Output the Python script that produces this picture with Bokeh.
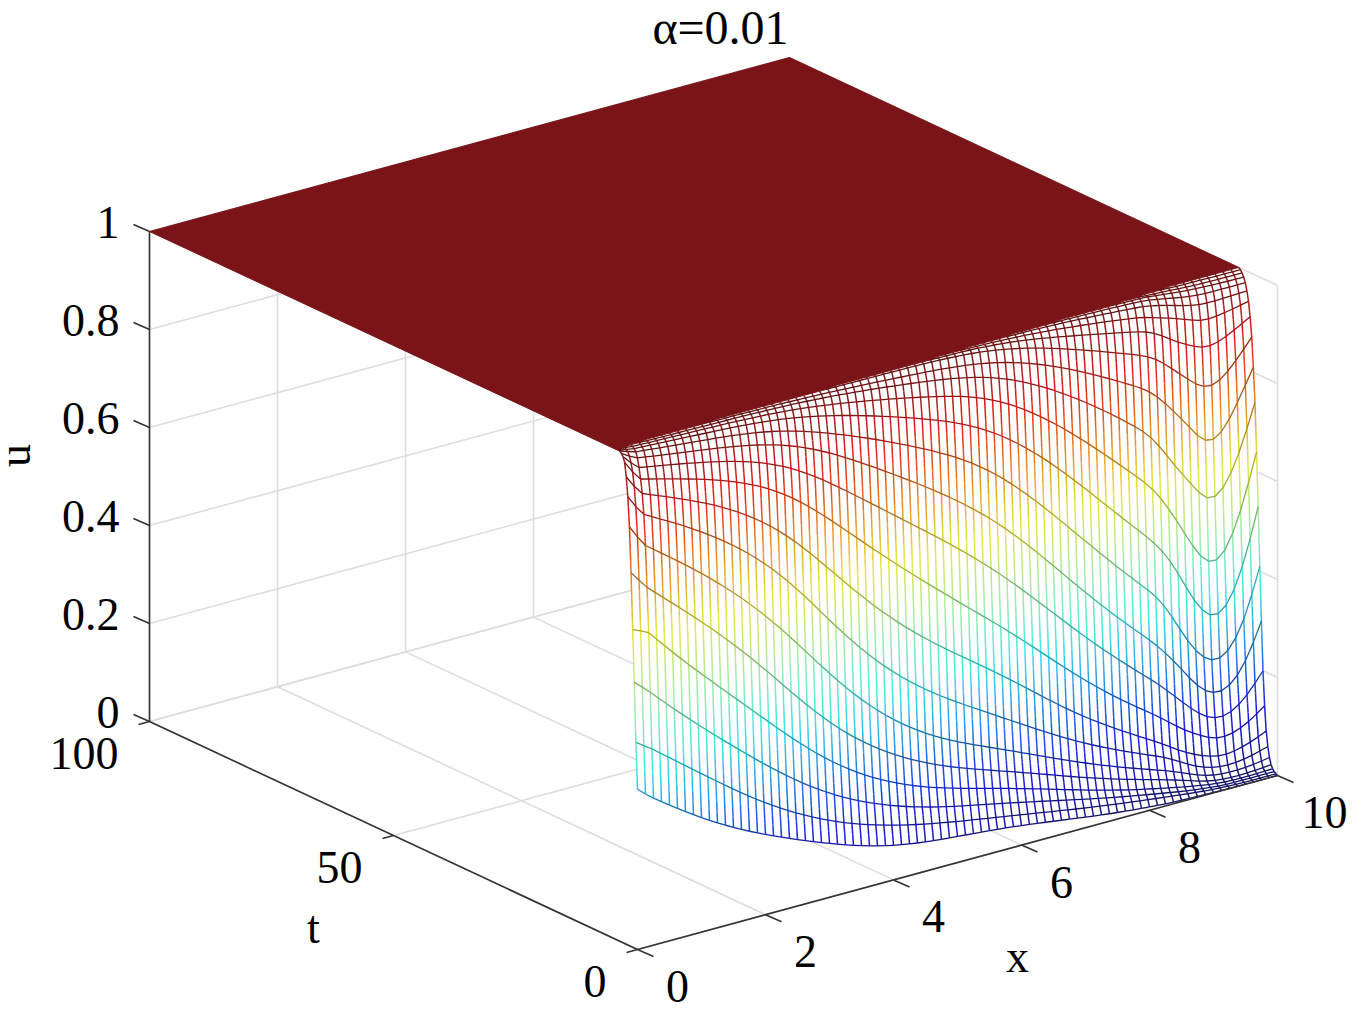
import math
from bokeh.plotting import figure
from bokeh.models import Range1d, ColumnDataSource
from bokeh.core.properties import value
from bokeh.embed import file_html
from bokeh.resources import INLINE

title = "α=0.01"
x_ticks = [0, 2, 4, 6, 8, 10]
t_ticks = [0, 50, 100]
u_ticks = [0, 0.2, 0.4, 0.6, 0.8, 1]
u_labels = ["0", "0.2", "0.4", "0.6", "0.8", "1"]
dx = 0.125      # spacing of the x mesh lines
dt = 0.33       # spacing of the t mesh lines

# u in thousandths, one list per t row, 81 values along x (8 per unit of x)
row_00 = [327,313,300,287,275,264,252,240, 228,219,210,201,193,185,177,169, 161,154,147,141,135,128,122,116, 108,102,96,90,84,79,74,70, 66,63,61,59,57,56,55,54, 53,52,51,50,49,47,45,43, 41,39,37,34,31,29,26,23, 20,18,16,14,12,10,9,7, 6,5,4,3,3,2,2,1, 1,1,0,0,0,0,0,0, 0]
row_01 = [421,410,399,386,372,360,348,337, 325,311,298,285,272,259,247,234, 222,213,204,195,186,177,168,159, 150,144,138,132,127,122,117,112, 108,104,100,96,93,90,87,84, 81,78,76,74,71,68,66,63, 61,58,55,52,49,46,43,40, 38,35,33,30,28,26,24,22, 20,18,16,14,12,10,8,7, 5,4,3,3,2,2,2,2, 2]
row_02 = [542,528,513,493,472,459,446,433, 420,405,391,376,362,347,333,319, 305,291,277,264,251,239,227,216, 205,197,189,181,173,165,158,151, 145,140,135,130,125,121,117,113, 110,107,104,101,99,95,92,88, 85,81,77,73,69,65,62,58, 55,51,47,44,40,37,34,30, 27,25,23,20,17,14,12,10, 8,6,5,5,5,5,5,5, 5]
row_03 = [648,641,633,609,585,571,558,544, 530,514,498,482,465,449,433,416, 400,384,368,352,336,319,302,286, 270,259,249,239,229,219,209,199, 190,183,177,171,165,159,154,149, 145,141,137,134,130,125,121,116, 112,107,102,97,92,87,82,77, 72,67,62,57,52,48,44,40, 37,34,31,28,24,21,18,15, 12,10,8,8,8,8,8,9, 9]
row_04 = [763,743,724,707,690,678,665,653, 640,625,609,592,576,560,543,527, 510,490,470,450,430,410,390,370, 350,336,322,308,295,283,271,260, 250,240,231,222,214,206,199,192, 185,180,175,170,165,160,155,150, 145,139,133,127,120,114,108,101, 95,90,85,80,75,70,65,60, 55,51,47,43,38,33,28,22, 17,15,12,12,12,12,13,14, 16]
row_05 = [855,830,808,793,780,770,760,750, 740,726,711,696,680,665,651,636, 620,604,588,572,552,530,505,480, 455,437,419,401,384,367,351,335, 320,308,296,285,274,263,253,245, 237,231,225,219,213,207,200,192, 185,177,170,162,155,147,140,132, 125,118,112,105,99,93,87,81, 75,71,66,60,54,47,40,33, 27,24,21,21,21,22,24,26, 29]
row_06 = [915,890,870,860,850,842,835,828, 820,810,799,787,775,763,751,738, 725,712,698,684,668,648,625,598, 570,549,529,509,490,471,453,436, 420,406,392,379,366,354,342,331, 320,311,303,295,286,277,266,256, 245,234,223,213,203,194,184,175, 165,156,148,140,133,126,119,112, 105,100,93,86,78,68,58,49, 42,38,34,34,35,37,40,45, 50]
row_07 = [954,930,911,903,895,890,885,880, 875,868,860,851,842,833,824,815, 805,794,783,772,758,742,723,702, 680,660,640,620,600,582,565,547, 530,516,502,488,473,459,446,433, 420,410,400,390,379,367,355,343, 330,316,302,288,274,260,247,233, 220,208,197,187,178,169,160,150, 140,131,121,112,101,90,80,72, 65,59,54,54,56,60,66,72, 80]
row_08 = [982,958,939,933,928,924,921,918, 915,911,906,900,895,889,883,877, 870,863,856,849,840,829,812,797, 780,763,747,731,715,699,683,666, 650,635,621,607,593,579,565,550, 535,521,507,493,479,466,453,442, 430,413,397,381,365,349,333,316, 300,285,271,258,245,232,220,207, 195,186,176,164,150,137,124,114, 105,95,88,88,91,97,106,117, 130]
row_09 = [992,975,961,957,953,951,949,947, 945,942,938,934,930,926,922,919, 915,910,904,899,892,885,875,863, 850,837,824,811,798,785,772,758, 745,733,721,708,695,683,670,658, 645,632,619,606,593,579,564,550, 535,517,499,482,465,448,430,412, 395,378,361,345,330,314,299,284, 270,258,245,230,213,196,180,162, 147,136,127,127,132,142,158,178, 200]
row_10 = [997,987,979,975,972,970,968,966, 965,963,961,958,955,952,950,948, 945,942,938,935,931,927,921,914, 905,896,887,877,866,855,845,835, 825,815,805,794,784,773,762,751, 740,728,716,704,692,680,667,654, 640,622,604,585,565,547,528,509, 490,472,454,436,418,401,384,367, 350,338,325,308,288,268,247,224, 200,187,176,176,183,198,223,258, 300]
row_11 = [1000,995,990,987,985,984,982,981, 980,978,977,975,974,972,971,970, 968,966,963,960,956,953,949,942, 935,929,923,916,909,903,897,891, 885,877,869,861,853,845,837,829, 820,813,806,799,790,778,765,753, 740,723,706,688,670,652,635,617, 600,581,562,543,525,506,487,468, 450,438,425,408,386,358,326,296, 270,253,240,240,250,272,305,350, 410]
row_12 = [1000,998,995,993,992,991,991,990, 990,989,988,987,986,985,984,984, 983,982,980,979,977,975,972,969, 965,961,957,953,948,944,940,935, 930,925,919,914,908,902,896,890, 885,880,875,869,863,855,845,835, 825,812,798,784,768,755,740,725, 710,691,672,654,635,616,597,578, 560,548,532,515,495,470,440,405, 372,348,327,327,340,368,410,465, 530]
row_13 = [1000,1000,998,997,996,996,996,995, 995,995,994,994,993,993,992,992, 991,991,990,989,988,987,986,984, 982,979,976,974,971,968,965,963, 960,957,953,950,946,942,938,934, 930,928,926,923,920,915,909,902, 895,884,872,860,848,836,824,812, 800,785,769,752,736,720,704,688, 672,660,645,625,600,575,545,515, 482,457,434,434,450,480,525,580, 640]
row_14 = [1000,1000,1000,999,999,999,998,998, 998,998,998,997,997,997,997,996, 996,996,995,995,995,994,994,993, 992,991,990,988,987,985,984,982, 980,978,976,974,972,970,968,965, 963,961,959,957,954,951,948,944, 940,932,924,915,906,897,888,879, 870,858,846,834,822,810,798,787, 775,765,750,730,705,680,655,630, 612,585,562,562,578,605,640,690, 740]
row_15 = [1000]*14 + [999,999, 999,999,999,999,998,998,998,998, 997,996,995,994,994,993,992,991, 990,989,988,987,986,985,983,982, 981,980,979,978,977,975,973,971, 968,963,957,951,945,939,933,927, 920,912,903,894,885,877,868,859, 850,843,833,820,805,785,765,745, 725,700,679,679,690,715,745,780, 810]
row_16 = [1000]*28 + [999,999,999,999, 999,999,999,999,998,998,998,998, 998,998,997,997,996,995,994,992, 990,987,983,979,975,970,965,960, 955,949,943,937,931,925,920,915, 910,904,897,889,880,866,850,835, 820,805,790,790,797,812,830,850, 870]
row_17 = [1000]*44 + [999,999,999,998, 997,996,994,992,990,987,984,980, 976,972,968,965,962,959,956,953, 950,947,943,938,932,920,908,898, 889,880,871,871,875,883,892,901, 910]
row_18 = [1000]*49 + [999,998,997,996,995,994,992, 990,988,986,984,982,981,979,977, 975,973,970,966,960,955,950,945, 940,932,925,925,927,930,933,937, 940]
row_19 = [1000]*56 + [998,997,996,995,994,993,992,991, 990,989,988,986,983,979,975,970, 965,961,957,957,957,958,958,959, 960]
row_20 = [1000]*60 + [999,999,998,998, 997,997,996,995,993,990,987,984, 980,978,976,975,975,975,975,975, 975]
row_21 = [1000]*67 + [999,998,996,994,992, 990,989,988,987,986,986,985,985, 985]
row_22 = [1000]*68 + [999,998,997,996, 995,994,993,993,992,992,992,992, 992]
row_23 = [1000]*72 + [998,998,998,998,998,997,997,997, 997]
row_24 = [1000]*81

rows = [row_00,row_01,row_02,row_03,row_04,row_05,row_06,row_07,row_08,row_09,row_10,row_11,row_12,
        row_13,row_14,row_15,row_16,row_17,row_18,row_19,row_20,row_21,row_22,row_23,row_24]
rows = [(r + [r[-1]] * 81)[:81] for r in rows]

def settle(r, lo, hi, passes):
    # evens out the reading noise of a hand-read row, ends left as read
    r = list(r)
    for _ in range(passes):
        r = [r[i] if i < lo or i > hi else (r[i - 1] + 2 * r[i] + r[i + 1]) / 4 for i in range(len(r))]
    return r

rows = [settle(settle(r, 3, 66, 36), 66, 79, 2) for r in rows]

# orthographic view of the box
OX, OY = 638.0, 950.0
XV = (640.0, -174.0)
TV = (-488.0, -228.0)
UV = (0.0, -490.0)

def proj(x, t, u):
    return (OX + XV[0] * x / 10 + TV[0] * t / 100 + UV[0] * u,
            OY + XV[1] * x / 10 + TV[1] * t / 100 + UV[1] * u)

def jet(v, gain=0.8, lift=18, pale=0.0):
    # pale: share of white mixed in on the mid heights, where the print is washed out
    w = pale * max(0.0, min(1.0, 1.0 - abs(v - 0.5) / 0.3))
    def f(c):
        level = lift + gain * 255 * max(0.0, min(1.0, 1.5 - abs(4 * v - c)))
        return int(round(level * (1 - w) + 255 * w))
    return "#%02x%02x%02x" % (f(3), f(2), f(1))

def seg(a, b):
    pa, pb = proj(*a), proj(*b)
    return [pa[0], pb[0]], [pa[1], pb[1]]

p = figure(width=1363, height=1006, output_backend="svg", toolbar_location=None,
           x_range=Range1d(1, 1364), y_range=Range1d(1007, 1), min_border=0,
           outline_line_color=None)
p.xaxis.visible = False
p.yaxis.visible = False
p.grid.visible = False

# back grid
gx, gy = [], []
for xv in x_ticks:
    a, b = seg((xv, 0, 0), (xv, 100, 0)); gx.append(a); gy.append(b)
    a, b = seg((xv, 100, 0), (xv, 100, 1)); gx.append(a); gy.append(b)
for tv in t_ticks:
    a, b = seg((0, tv, 0), (10, tv, 0)); gx.append(a); gy.append(b)
    a, b = seg((10, tv, 0), (10, tv, 1)); gx.append(a); gy.append(b)
for uv in u_ticks:
    a, b = seg((0, 100, uv), (10, 100, uv)); gx.append(a); gy.append(b)
    a, b = seg((10, 0, uv), (10, 100, uv)); gx.append(a); gy.append(b)
p.multi_line(gx, gy, line_color="#dddddd", line_width=1.6)

n_rows, n_cols = len(rows), 81
xs_mesh = [i * dx for i in range(n_cols)]
ts_mesh = [k * dt for k in range(n_rows)]

def pt(k, i):
    return proj(xs_mesh[i], ts_mesh[k], rows[k][i] / 1000)

# the surface hides what is behind it
outline = [pt(k, 0) for k in range(n_rows)]
outline += [pt(n_rows - 1, i) for i in range(n_cols)]
outline += [pt(k, n_cols - 1) for k in range(n_rows - 1, -1, -1)]
outline += [pt(0, i) for i in range(n_cols - 1, -1, -1)]
p.patch([q[0] for q in outline], [q[1] for q in outline], fill_color="white", line_color=None)

# flat top at u = 1
edge = []
for i in range(n_cols):
    k = next(k for k in range(n_rows) if rows[k][i] >= 999.5)
    edge.append(pt(k, i))
plate = edge + [proj(10, 100, 1), proj(0, 100, 1)]
p.patch([q[0] for q in plate], [q[1] for q in plate], fill_color="#7b1418", line_color="#7b1418", line_width=1)

# mesh lines, coloured by height: x lines paler, t lines darker as in the print
vx, vy, vc, hx, hy, hc = [], [], [], [], [], []
for k in range(n_rows):
    for i in range(n_cols):
        u0 = rows[k][i]
        if k + 1 < n_rows:
            u1 = rows[k + 1][i]
            if not (u0 >= 999.5 and u1 >= 999.5):
                a, b = pt(k, i), pt(k + 1, i)
                n = max(1, int(math.ceil(abs(u1 - u0) / 25)))
                for s in range(n):
                    f0, f1 = s / n, (s + 1) / n
                    vx.append([a[0] + (b[0] - a[0]) * f0, a[0] + (b[0] - a[0]) * f1])
                    vy.append([a[1] + (b[1] - a[1]) * f0, a[1] + (b[1] - a[1]) * f1])
                    vc.append(jet((u0 + (u1 - u0) * (f0 + f1) / 2) / 1000, 0.78, 28, 0.3))
for k in range(n_rows):
    for i in range(n_cols - 1):
        u0, u1 = rows[k][i], rows[k][i + 1]
        if not (u0 >= 999.5 and u1 >= 999.5):
            a, b = pt(k, i), pt(k, i + 1)
            hx.append([a[0], b[0]]); hy.append([a[1], b[1]]); hc.append(jet((u0 + u1) / 2000, 0.6, 18, 0.1))
p.multi_line(xs="x", ys="y", line_color="c", line_width=1.5, source=ColumnDataSource(dict(x=vx, y=vy, c=vc)))
p.multi_line(xs="x", ys="y", line_color="c", line_width=1.3, source=ColumnDataSource(dict(x=hx, y=hy, c=hc)))

# axes
AX = "#333333"
ax, ay = [], []
for a3, b3 in [((0, 100, 0), (0, 100, 1)), ((0, 0, 0), (0, 100, 0)), ((0, 0, 0), (10, 0, 0))]:
    a, b = seg(a3, b3); ax.append(a); ay.append(b)
for uv in u_ticks:
    q = proj(0, 100, uv); ax.append([q[0], q[0] - 16]); ay.append([q[1], q[1] - 7])
for tv in t_ticks:
    q = proj(0, tv, 0); ax.append([q[0], q[0] - 11]); ay.append([q[1], q[1] + 3])
for xv in x_ticks:
    q = proj(xv, 0, 0); ax.append([q[0], q[0] + 16]); ay.append([q[1], q[1] + 7])
p.multi_line(ax, ay, line_color=AX, line_width=1.6)

FONT = value("Liberation Serif")
def label(x, y, s, align="center", angle=0.0, size="46px"):
    p.text([x], [y], text=[s], text_font=FONT, text_font_size=value(size), text_color="#000000",
           text_align=align, text_baseline="middle", angle=angle)

for uv, s in zip(u_ticks, u_labels):
    q = proj(0, 100, uv)
    label(q[0] - 30, q[1] - 9, s, "right")
for tv in t_ticks:
    q = proj(0, tv, 0)
    label(q[0] - 31, q[1] + 32, str(tv), "right")
for xv in x_ticks:
    q = proj(xv, 0, 0)
    label(q[0] + (47 if xv == 10 else 40), q[1] + 37, str(xv))

label(721, 28, title, size="48px")
label(1018, 957, "x")
label(314, 928, "t")
label(15, 456, "u", angle=math.pi / 2)

open("out.html", "w").write(file_html(p, INLINE))
